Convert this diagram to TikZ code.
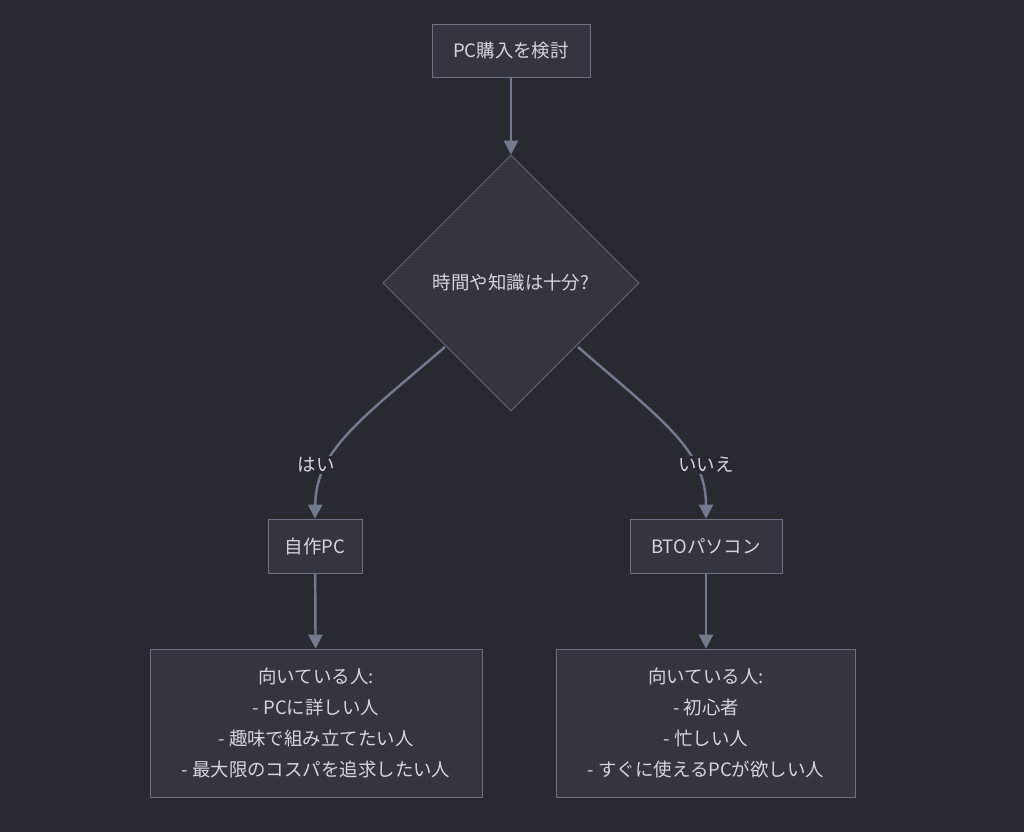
\documentclass[tikz,border=0pt]{standalone}
\usepackage{fontspec}
\setmainfont{Noto Sans CJK JP}
\usetikzlibrary{shapes.geometric,arrows.meta}
\definecolor{bgcol}{HTML}{282A31}
\definecolor{boxfill}{HTML}{33363F}
\definecolor{boxline}{HTML}{6E7383}
\definecolor{txtcol}{HTML}{D4D6DC}
\definecolor{arrcol}{HTML}{737A8E}
\tikzset{
  box/.style={draw=boxline, fill=boxfill, text=txtcol, rectangle, inner sep=0pt},
  lbl/.style={text=txtcol, font=\fontsize{10.5pt}{17.6pt}\selectfont},
  flow/.style={draw=arrcol, line width=1.4pt, -{Triangle[length=8pt,width=8pt]}}
}
\begin{document}
\begin{tikzpicture}[x=0.02cm, y=-0.02cm, font=\fontsize{10.5pt}{17.6pt}\selectfont]
\fill[bgcol] (0,0) rectangle (1024,832);
\useasboundingbox (0,0) rectangle (1024,832);

% nodes
\node[box, minimum width=3.16cm, minimum height=1.06cm] (buy) at (511,51) {PC購入を検討};
\node[box, diamond, aspect=1, minimum width=5.12cm, minimum height=5.12cm] (ask) at (511,283) {時間や知識は十分?};
\node[box, minimum width=1.88cm, minimum height=1.08cm] (diy) at (315,546) {自作PC};
\node[box, minimum width=3.04cm, minimum height=1.08cm] (bto) at (706,546) {BTOパソコン};
\node[box, minimum width=6.64cm, minimum height=2.96cm, align=center] (diyfit) at (316,723)
  {向いている人:\\- PCに詳しい人\\- 趣味で組み立てたい人\\- 最大限のコスパを追求したい人};
\node[box, minimum width=5.98cm, minimum height=2.96cm, align=center] (btofit) at (706,723)
  {向いている人:\\- 初心者\\- 忙しい人\\- すぐに使えるPCが欲しい人};

% connectors
\coordinate (askl) at (445,347);
\coordinate (askr) at (578,347);
\draw[flow] (buy) -- (ask.north);
\draw[flow] (askl) .. controls (360,420) and (316,450) .. (diy.north);
\draw[flow] (askr) .. controls (662,420) and (706,450) .. (bto.north);
\draw[flow] (diy) -- (diyfit);
\draw[flow] (bto) -- (btofit);

% edge labels
\node[lbl, fill=bgcol, inner sep=1pt] (yes) at (316,465) {はい};
\node[lbl, fill=bgcol, inner sep=1pt] (no) at (706,465) {いいえ};
\end{tikzpicture}
\end{document}
